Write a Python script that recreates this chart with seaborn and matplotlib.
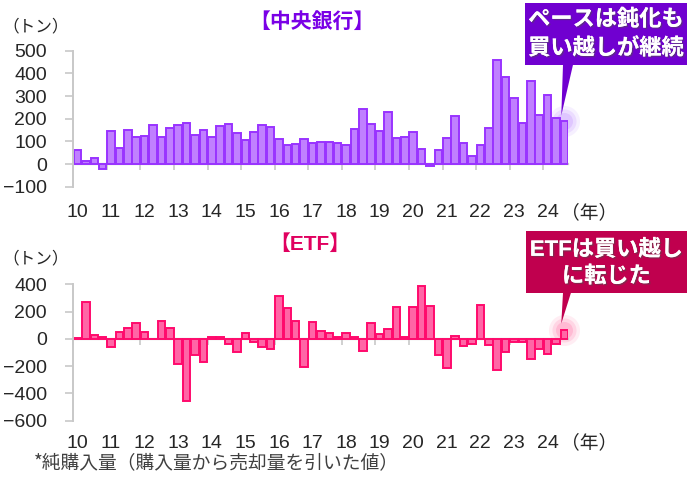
import numpy as np
import matplotlib
matplotlib.use("Agg")
import matplotlib.pyplot as plt
import matplotlib.patheffects as pe
from matplotlib.patches import Rectangle, Polygon
import seaborn as sns

# quarterly net purchases (tonnes), 2010 Q1 - 2024 Q3
years = [str(y) for y in range(10, 25)]
quarters = [f"{y}Q{q}" for y in years for q in range(1, 5)][:59]

central_banks = [
    60, 15, 25, -22, 144, 71, 150, 121, 124, 171, 118, 159, 171, 182, 126, 150,
    119, 169, 178, 135, 104, 141, 172, 162, 110, 84, 88, 112, 91, 96, 96, 93,
    84, 153, 241, 178, 146, 228, 113, 118, 140, 65, -10, 62, 116, 210, 91, 34,
    82, 159, 459, 382, 291, 179, 365, 216, 306, 203, 188,
]
etf = [
    10, 268, 32, 15, -63, 54, 80, 115, 54, 2, 132, 80, -183, -454, -117, -173,
    12, 17, -37, -98, 44, -22, -63, -76, 315, 229, 132, -205, 122, 59, 46, 17,
    46, 15, -88, 117, 39, 76, 232, 12, 234, 385, 239, -120, -215, 20, -51, -41,
    249, -46, -227, -95, -22, -20, -149, -73, -110, -37, 68,
]

sns.set_style("white")
plt.rcParams["font.family"] = ["Liberation Sans", "Noto Sans CJK JP"]
JP = ["Noto Sans CJK JP", "Liberation Sans"]
MIX = ["Liberation Sans", "Noto Sans CJK JP"]
GRAY = "#c8c8c8"

fig = plt.figure(figsize=(6.87, 4.8), dpi=100)
ax1 = fig.add_axes([0.1067, 0.611, 0.7208, 0.2833])
ax2 = fig.add_axes([0.1067, 0.1235, 0.7208, 0.2842])


def draw_panel(ax, values, face, edge, ylim, yticks, label_y):
    sns.barplot(x=quarters, y=values, ax=ax, color=face, edgecolor=edge,
                linewidth=1.4, width=0.9, saturation=1, zorder=2)
    ax.set_xlim(-0.5, len(values) - 0.5)
    ax.set_ylim(*ylim)
    ax.set_yticks(yticks)
    ax.tick_params(axis="y", length=6, width=1.2, color=GRAY, pad=13,
                   labelsize=14, left=True)
    ax.set_xticks(np.arange(-0.5, len(values), 4), labels=[])
    ax.tick_params(axis="x", length=4, width=1.2, color=GRAY, bottom=True,
                   direction="out")
    for s in ["top", "right"]:
        ax.spines[s].set_visible(False)
    ax.spines["left"].set_color(GRAY)
    ax.spines["left"].set_linewidth(1.4)
    ax.spines["bottom"].set_position(("data", 0))
    ax.spines["bottom"].set_color(GRAY)
    ax.spines["bottom"].set_linewidth(1.6)
    ax.spines["bottom"].set_zorder(1)
    ax.set_xlabel("")
    ax.set_ylabel("")
    ax.grid(False)
    trans = ax.get_xaxis_transform()
    for i, y in enumerate(years):
        ax.text(4 * i, label_y, y, transform=trans, ha="center", va="center",
                fontsize=14, clip_on=False)
    ax.text(61.0, label_y, "（年）", transform=trans, ha="center", va="center",
            fontsize=13.5, family=JP, clip_on=False)


draw_panel(ax1, central_banks, "#c080ff", "#9933ff", (-100, 500),
           range(-100, 501, 100), -0.193)
draw_panel(ax2, etf, "#ff66a6", "#ff0a6c", (-600, 400),
           range(-600, 401, 200), -0.164)

# unit labels and panel titles
fig.text(0.003, 0.944, "（トン）", fontsize=12, family=JP, va="center")
fig.text(0.003, 0.46, "（トン）", fontsize=12, family=JP, va="center")
fig.text(0.454, 0.956, "【中央銀行】", fontsize=15, family=JP, weight="bold",
         color="#7a00e6", ha="center", va="center")
fig.text(0.451, 0.492, "【ETF】", fontsize=15, family=MIX, weight="bold",
         color="#e0005f", ha="center", va="center")
fig.text(0.049, 0.037, "*純購入量（購入量から売却量を引いた値）", fontsize=13.5,
         family=JP, color="#404040", va="center")


def callout(ax, xbar, ybar, box, color, glow, lines, line_ys, base_x, tip_px):
    x0, y0, x1, y1 = box
    fig.patches.append(Rectangle((x0, y0), x1 - x0, y1 - y0,
                                 transform=fig.transFigure, facecolor=color,
                                 edgecolor="none", zorder=5))
    # pointer from box bottom to the last bar
    tip = fig.transFigure.inverted().transform(
        ax.transData.transform((xbar, ybar)))
    tip = (tip[0] - tip_px / 687, tip[1] + 6 / 480)
    fig.patches.append(Polygon([(base_x[0], y0), (base_x[1], y0), tip],
                               closed=True, transform=fig.transFigure,
                               facecolor=color, edgecolor="none", zorder=5))
    # soft halo at the bar top
    for s, a in [(500, 0.10), (300, 0.15), (150, 0.2)]:
        ax.scatter([xbar], [ybar], s=s, color=glow, alpha=a, lw=0,
                   zorder=1, clip_on=False)
    for txt, yy in zip(lines, line_ys):
        fig.text((x0 + x1) / 2, yy, txt, fontsize=16, family=MIX,
                 weight="bold", color="white", ha="center", va="center",
                 zorder=6,
                 path_effects=[pe.withSimplePatchShadow(offset=(1, -1),
                                                        alpha=0.5),
                               pe.Normal()])


callout(ax1, 58, central_banks[-1], (0.7642, 0.8646, 1.0, 0.9938),
        "#7000d0", "#b070ff", ["ペースは鈍化も", "買い越しが継続"],
        [0.958, 0.899], (0.8195, 0.834), 3)
callout(ax2, 58, etf[-1], (0.7656, 0.3896, 1.0, 0.5188),
        "#c0004e", "#ff5090", ["ETFは買い越し", "に転じた"],
        [0.479, 0.423], (0.8195, 0.831), 3)

fig.savefig("out.png", dpi=100)
